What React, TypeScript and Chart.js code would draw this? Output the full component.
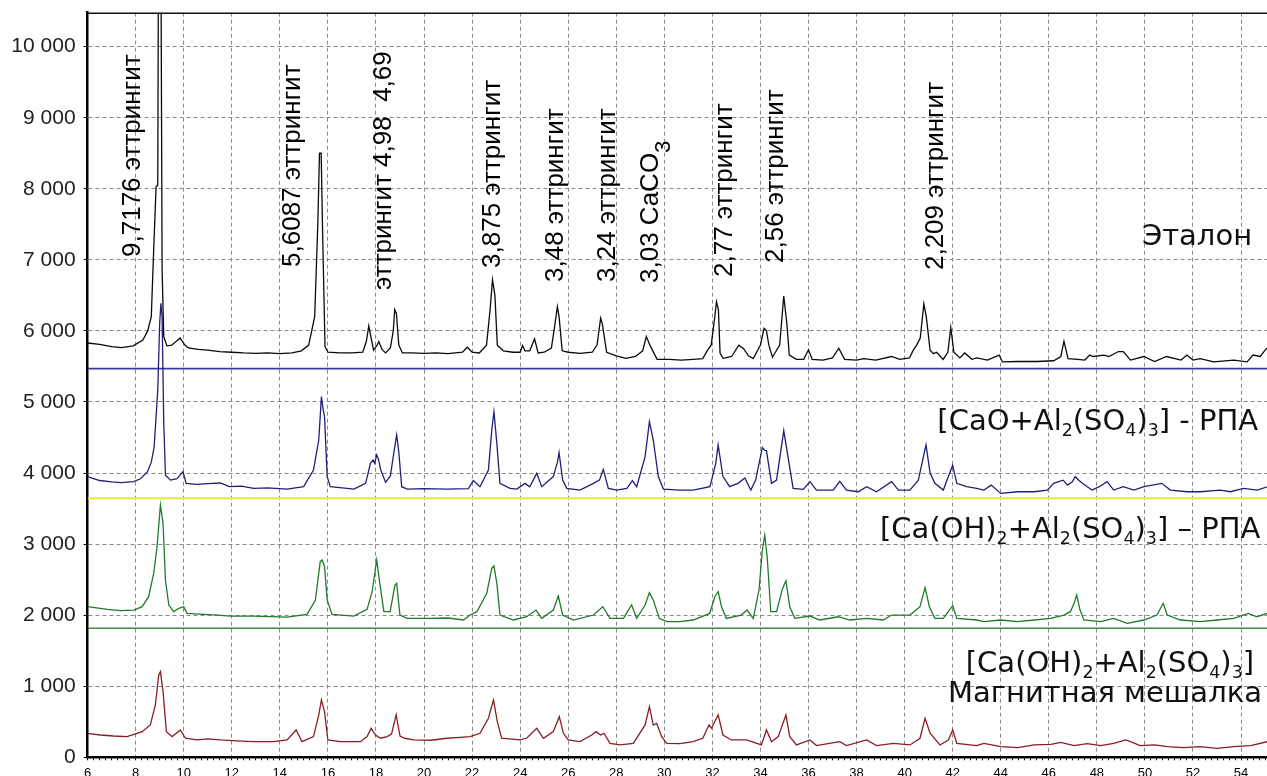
import React, { useEffect, useRef } from "react";
import { Chart, registerables } from "chart.js";

Chart.register(...registerables);

// ---------------- DATA ----------------
const xMajorTicks = [6, 8, 10, 12, 14, 16, 18, 20, 22, 24, 26, 28, 30, 32, 34, 36, 38, 40, 42, 44, 46, 48, 50, 52, 54];
const yTickValues = [0, 1000, 2000, 3000, 4000, 5000, 6000, 7000, 8000, 9000, 10000];
const yTickLabels = ["0", "1 000", "2 000", "3 000", "4 000", "5 000", "6 000", "7 000", "8 000", "9 000", "10 000"];

// Эталон (black)
const etalonX = [6.0, 6.5, 7.0, 7.4, 7.9, 8.3, 8.5, 8.65, 8.75, 8.85, 8.92, 8.95, 9.05, 9.1, 9.17, 9.3, 9.5, 9.85, 10.05, 10.2, 10.6, 11.0, 11.5, 12.0, 12.5, 13.0, 13.5, 14.0, 14.5, 14.9, 15.2, 15.45, 15.58, 15.65, 15.72, 15.78, 15.88, 16.0, 16.5, 17.0, 17.45, 17.6, 17.7, 17.8, 17.9, 18.05, 18.12, 18.25, 18.4, 18.6, 18.72, 18.78, 18.85, 18.95, 19.1, 19.5, 20.0, 20.5, 21.0, 21.6, 21.8, 22.0, 22.3, 22.6, 22.75, 22.85, 22.95, 23.05, 23.3, 23.7, 24.0, 24.1, 24.2, 24.4, 24.6, 24.75, 25.0, 25.3, 25.45, 25.55, 25.62, 25.75, 26.0, 26.5, 27.0, 27.2, 27.35, 27.42, 27.6, 28.0, 28.4, 28.8, 29.1, 29.25, 29.4, 29.7, 30.2, 30.7, 31.2, 31.6, 31.8, 31.95, 32.1, 32.17, 32.25, 32.32, 32.45, 32.8, 33.1, 33.3, 33.5, 33.7, 34.0, 34.15, 34.25, 34.35, 34.5, 34.8, 34.97, 35.1, 35.2, 35.5, 35.8, 36.0, 36.15, 36.6, 37.0, 37.26, 37.5, 38.0, 38.3, 38.8, 39.46, 39.8, 40.2, 40.36, 40.5, 40.65, 40.8, 40.9, 41.06, 41.2, 41.33, 41.6, 41.8, 41.92, 42.05, 42.3, 42.5, 42.8, 43.0, 43.45, 43.93, 44.07, 44.7, 45.5, 46.2, 46.5, 46.63, 46.8, 47.2, 47.5, 47.7, 47.85, 48.3, 48.5, 48.9, 49.1, 49.4, 49.96, 50.4, 50.9, 51.5, 51.75, 52.0, 52.3, 52.86, 53.7, 54.25, 54.5, 54.8, 55.0, 55.1];
const etalonY = [5830, 5810, 5780, 5765, 5790, 5870, 6000, 6200, 7140, 8030, 8050, 11500, 11500, 6860, 5920, 5790, 5800, 5900, 5800, 5760, 5740, 5730, 5710, 5700, 5690, 5685, 5690, 5680, 5690, 5720, 5800, 6200, 7500, 8500, 8500, 7380, 5780, 5700, 5690, 5690, 5700, 5850, 6070, 5900, 5730, 5800, 5850, 5740, 5690, 5760, 6000, 6300, 6250, 5800, 5690, 5690, 5685, 5690, 5680, 5700, 5770, 5700, 5690, 5800, 6300, 6720, 6500, 5800, 5720, 5700, 5700, 5795, 5720, 5720, 5890, 5690, 5700, 5760, 6100, 6340, 6200, 5720, 5700, 5685, 5700, 5800, 6180, 6100, 5700, 5650, 5615, 5640, 5720, 5920, 5800, 5600, 5600, 5590, 5600, 5610, 5730, 5800, 6200, 6412, 6300, 5685, 5615, 5640, 5800, 5750, 5650, 5610, 5800, 6036, 6000, 5800, 5630, 5800, 6492, 6100, 5660, 5600, 5600, 5735, 5600, 5590, 5620, 5757, 5600, 5590, 5610, 5590, 5640, 5600, 5620, 5730, 5800, 5900, 6380, 6200, 5730, 5680, 5700, 5600, 5700, 6050, 5700, 5620, 5690, 5600, 5620, 5590, 5660, 5565, 5570, 5570, 5580, 5640, 5855, 5610, 5600, 5590, 5660, 5640, 5660, 5640, 5710, 5710, 5590, 5640, 5570, 5640, 5590, 5660, 5590, 5610, 5565, 5590, 5565, 5660, 5640, 5730, 5760];

// [CaO+Al2(SO4)3] - РПА (blue)
const caoX = [6.0, 6.5, 7.0, 7.4, 7.92, 8.2, 8.49, 8.65, 8.77, 8.92, 9.0, 9.05, 9.1, 9.17, 9.24, 9.45, 9.72, 9.97, 10.1, 10.55, 11.0, 11.52, 11.9, 12.4, 12.91, 13.5, 14.3, 14.99, 15.4, 15.62, 15.73, 15.8, 15.86, 15.97, 16.1, 16.6, 17.08, 17.57, 17.77, 17.88, 17.95, 18.03, 18.1, 18.2, 18.4, 18.6, 18.75, 18.86, 18.95, 19.07, 19.3, 20.0, 20.94, 21.85, 22.05, 22.33, 22.68, 22.82, 22.91, 23.03, 23.16, 23.58, 23.86, 24.2, 24.4, 24.69, 24.9, 25.38, 25.55, 25.62, 25.77, 25.94, 26.49, 27.05, 27.3, 27.46, 27.67, 28.02, 28.44, 28.67, 28.85, 29.2, 29.38, 29.54, 29.75, 29.96, 30.65, 31.2, 31.9, 32.14, 32.24, 32.44, 32.72, 33.07, 33.35, 33.6, 33.8, 34.08, 34.18, 34.25, 34.46, 34.67, 34.97, 35.15, 35.36, 35.78, 36.06, 36.33, 37.03, 37.3, 37.58, 38.07, 38.42, 38.83, 39.46, 39.74, 40.22, 40.57, 40.89, 41.06, 41.26, 41.61, 41.82, 42.0, 42.17, 42.58, 43.0, 43.3, 43.6, 44.0, 44.7, 45.4, 45.94, 46.2, 46.6, 46.77, 46.98, 47.1, 47.25, 47.4, 47.6, 47.8, 48.1, 48.43, 48.7, 49.1, 49.54, 49.96, 50.7, 51.06, 51.76, 52.3, 53.14, 53.56, 54.1, 54.67, 55.1];
const caoY = [3950, 3895, 3875, 3864, 3880, 3920, 4020, 4150, 4370, 5170, 6107, 6390, 6200, 4700, 3970, 3900, 3920, 4020, 3855, 3840, 3850, 3860, 3808, 3815, 3785, 3790, 3775, 3808, 4043, 4465, 5075, 4900, 4793, 3950, 3808, 3790, 3775, 3855, 4137, 4185, 4137, 4255, 4200, 4043, 3870, 3960, 4300, 4536, 4300, 3808, 3775, 3780, 3775, 3780, 3896, 3808, 4043, 4606, 4864, 4420, 3855, 3785, 3775, 3855, 3808, 3996, 3808, 3950, 4150, 4287, 3900, 3785, 3761, 3855, 3900, 4052, 3785, 3761, 3785, 3892, 3808, 4230, 4723, 4465, 3950, 3775, 3760, 3760, 3808, 4137, 4395, 3950, 3808, 3855, 3930, 3760, 3900, 4361, 4320, 4315, 3855, 3900, 4597, 4220, 3785, 3770, 3878, 3760, 3760, 3883, 3760, 3737, 3808, 3737, 3878, 3760, 3760, 3900, 4395, 4000, 3855, 3760, 3950, 4110, 3855, 3808, 3785, 3760, 3830, 3713, 3737, 3737, 3760, 3855, 3900, 3830, 3878, 3949, 3900, 3855, 3808, 3760, 3808, 3878, 3760, 3808, 3760, 3808, 3855, 3760, 3737, 3737, 3760, 3737, 3785, 3760, 3808];

// [Ca(OH)2+Al2(SO4)3] – РПА (green)
const caohRpaX = [6.0, 6.82, 7.37, 7.92, 8.27, 8.54, 8.75, 8.89, 9.03, 9.14, 9.24, 9.38, 9.58, 9.79, 10.0, 10.14, 10.83, 11.4, 11.94, 12.91, 13.6, 14.3, 15.13, 15.48, 15.68, 15.76, 15.86, 15.97, 16.17, 17.08, 17.63, 17.84, 18.03, 18.16, 18.33, 18.59, 18.79, 18.86, 19.0, 19.3, 20.25, 21.0, 21.64, 21.92, 22.2, 22.61, 22.82, 22.91, 23.03, 23.16, 23.72, 24.27, 24.66, 24.9, 25.38, 25.59, 25.77, 26.22, 27.05, 27.44, 27.74, 28.3, 28.64, 28.85, 29.2, 29.38, 29.54, 29.79, 30.1, 30.65, 31.2, 31.89, 32.1, 32.24, 32.38, 32.58, 33.2, 33.44, 33.7, 33.94, 34.08, 34.18, 34.28, 34.43, 34.67, 34.92, 35.06, 35.22, 35.43, 36.06, 36.47, 37.24, 37.72, 38.42, 39.11, 39.46, 40.22, 40.64, 40.85, 41.03, 41.26, 41.61, 41.82, 42.0, 42.17, 43.0, 43.3, 44.0, 44.7, 45.4, 46.08, 46.63, 46.9, 47.05, 47.16, 47.3, 47.46, 48.16, 48.7, 49.26, 49.96, 50.5, 50.76, 50.93, 51.48, 52.31, 53.0, 53.7, 54.3, 54.66, 55.1];
const caohRpaY = [2119, 2082, 2063, 2072, 2119, 2260, 2588, 2963, 3550, 3290, 2494, 2143, 2049, 2096, 2119, 2025, 2011, 2000, 1987, 1987, 1980, 1973, 2011, 2214, 2753, 2777, 2683, 2214, 2011, 1987, 2082, 2330, 2777, 2448, 2049, 2049, 2424, 2448, 2002, 1955, 1955, 1960, 1932, 2002, 2049, 2307, 2659, 2692, 2448, 2002, 1932, 1978, 2072, 1955, 2072, 2270, 2002, 1932, 2002, 2119, 1955, 1955, 2143, 1955, 2143, 2317, 2214, 1955, 1908, 1908, 1932, 2025, 2260, 2330, 2119, 1955, 2002, 2072, 1955, 2354, 2917, 3128, 2823, 2049, 2049, 2377, 2485, 2119, 1955, 1988, 1932, 1978, 1932, 1955, 1932, 2002, 2002, 2119, 2387, 2119, 1955, 1955, 2049, 2133, 1955, 1932, 1908, 1932, 1908, 1932, 1955, 2002, 2049, 2166, 2284, 2072, 1932, 1908, 1955, 1885, 1932, 2002, 2167, 2002, 1932, 1908, 1932, 1955, 2025, 1978, 2025];

// [Ca(OH)2+Al2(SO4)3] Магнитная мешалка (red)
const mixerX = [6.0, 6.53, 7.08, 7.64, 8.06, 8.27, 8.61, 8.82, 8.96, 9.03, 9.14, 9.28, 9.52, 9.86, 10.07, 10.55, 11.0, 11.52, 12.2, 12.91, 13.74, 14.3, 14.68, 14.92, 15.4, 15.62, 15.73, 15.86, 16.0, 16.52, 17.36, 17.63, 17.8, 17.98, 18.19, 18.47, 18.65, 18.84, 19.0, 19.2, 19.56, 20.3, 20.94, 21.5, 21.92, 22.33, 22.68, 22.89, 23.05, 23.23, 23.99, 24.27, 24.69, 24.97, 25.38, 25.63, 25.8, 26.0, 26.49, 26.98, 27.16, 27.35, 27.49, 27.74, 28.16, 28.71, 29.2, 29.38, 29.54, 29.68, 29.89, 30.1, 30.65, 31.2, 31.6, 31.86, 31.96, 32.24, 32.44, 32.79, 33.42, 34.04, 34.25, 34.46, 34.74, 35.06, 35.22, 35.5, 36.06, 36.33, 37.3, 37.58, 38.42, 38.83, 39.53, 40.22, 40.64, 40.85, 41.06, 41.47, 41.82, 42.0, 42.17, 43.0, 43.3, 44.0, 44.7, 45.4, 46.08, 46.5, 47.05, 47.6, 48.16, 48.7, 49.2, 49.4, 49.8, 50.4, 50.93, 51.6, 52.3, 53.0, 53.7, 54.4, 55.1];
const mixerY = [338, 314, 300, 291, 338, 361, 455, 736, 1158, 1205, 924, 361, 291, 385, 268, 244, 260, 244, 230, 220, 220, 244, 385, 220, 291, 596, 807, 643, 244, 220, 220, 291, 408, 314, 268, 291, 330, 596, 300, 268, 244, 240, 268, 280, 291, 338, 549, 807, 502, 268, 244, 268, 408, 268, 361, 572, 338, 244, 220, 314, 361, 314, 338, 197, 174, 197, 455, 713, 455, 478, 291, 197, 192, 220, 268, 455, 408, 596, 314, 244, 244, 174, 385, 220, 291, 596, 291, 174, 244, 165, 220, 165, 244, 165, 197, 174, 268, 549, 338, 174, 244, 385, 197, 165, 197, 150, 136, 174, 183, 211, 165, 192, 165, 197, 244, 220, 165, 174, 150, 136, 150, 127, 150, 165, 220];

// horizontal separators between the traces
const separatorLevels = [5470, 3645, 1815];

// peak annotations (rotated)
const peakLabelTexts = ["9,7176 эттрингит", "5,6087 эттрингит", "эттрингит 4,98  4,69", "3,875 эттрингит", "3,48 эттрингит", "3,24 эттрингит", "3,03 CaCO{3}", "2,77 эттрингит", "2,56 эттрингит", "2,209 эттрингит"];
const peakLabelX = [8.18, 14.84, 18.63, 23.16, 25.78, 27.95, 29.74, 32.82, 34.94, 41.6];
const peakLabelY = [7041, 6900, 6577, 6886, 6689, 6689, 6675, 6759, 6956, 6857];

// series names (right side)
const seriesLabelTexts = ["Эталон", "[CaO+Al{2}(SO{4}){3}] - РПА", "[Ca(OH){2}+Al{2}(SO{4}){3}] – РПА", "[Ca(OH){2}+Al{2}(SO{4}){3}]", "Магнитная мешалка"];
const seriesLabelY = [7209, 4606, 3086, 1200, 780];
const seriesLabelRightX = [54.46, 54.71, 54.8, 54.54, 54.87];

// axis ranges
const X_MIN = 6;
const X_MAX = 55.08;
const Y_MAX = 10478;

// ---------------- helpers ----------------
const ARIAL = '"Liberation Sans", Arial, sans-serif';
const DEJAVU = '"DejaVu Sans", Verdana, sans-serif';

function toPoints(xs: number[], ys: number[]) {
  return xs.map((x, i) => ({ x, y: ys[i] }));
}

type Seg = { t: string; sub: boolean };
function parseRich(s: string): Seg[] {
  const segs: Seg[] = [];
  const re = /\{([^}]*)\}/g;
  let last = 0;
  let m: RegExpExecArray | null;
  while ((m = re.exec(s))) {
    if (m.index > last) segs.push({ t: s.slice(last, m.index), sub: false });
    segs.push({ t: m[1], sub: true });
    last = re.lastIndex;
  }
  if (last < s.length) segs.push({ t: s.slice(last), sub: false });
  return segs;
}

function drawRich(ctx: CanvasRenderingContext2D, s: string, x: number, y: number, size: number, family: string, align: "left" | "right", subScale: number, subDrop: number) {
  const segs = parseRich(s);
  const mainFont = `${size}px ${family}`;
  const subFont = `${size * subScale}px ${family}`;
  let w = 0;
  for (const seg of segs) {
    ctx.font = seg.sub ? subFont : mainFont;
    w += ctx.measureText(seg.t).width;
  }
  let cx = align === "right" ? x - w : x;
  ctx.textAlign = "left";
  ctx.textBaseline = "alphabetic";
  for (const seg of segs) {
    ctx.font = seg.sub ? subFont : mainFont;
    ctx.fillText(seg.t, cx, seg.sub ? y + size * subDrop : y);
    cx += ctx.measureText(seg.t).width;
  }
}

const annotationPlugin = {
  id: "xrdAnnotations",
  afterDatasetsDraw(chart: any) {
    const { ctx, chartArea, scales } = chart;
    const xs = scales.x;
    const ys = scales.y;
    ctx.save();
    // top frame line
    ctx.strokeStyle = "#111";
    ctx.lineWidth = 1.6;
    ctx.beginPath();
    ctx.moveTo(chartArea.left, chartArea.top + 0.5);
    ctx.lineTo(chartArea.right, chartArea.top + 0.5);
    ctx.stroke();

    ctx.fillStyle = "#000";
    // rotated peak labels
    peakLabelTexts.forEach((txt, i) => {
      const px = xs.getPixelForValue(peakLabelX[i]);
      const py = ys.getPixelForValue(peakLabelY[i]);
      ctx.save();
      ctx.translate(px, py);
      ctx.rotate(-Math.PI / 2);
      drawRich(ctx, txt, 0, 0, 26, ARIAL, "left", 0.85, 0.45);
      ctx.restore();
    });
    // series names
    ctx.fillStyle = "#111";
    seriesLabelTexts.forEach((txt, i) => {
      const rx = xs.getPixelForValue(seriesLabelRightX[i]);
      const py = ys.getPixelForValue(seriesLabelY[i]);
      drawRich(ctx, txt, rx, py, 29, DEJAVU, "right", 0.6, 0.2);
    });
    ctx.restore();
  },
};

export default function App() {
  const canvasRef = useRef<HTMLCanvasElement | null>(null);

  useEffect(() => {
    const canvas = canvasRef.current;
    if (!canvas) return;
    const lineDs = (label: string, xs: number[], ys: number[], color: string, width: number) => ({
      label,
      data: toPoints(xs, ys),
      borderColor: color,
      borderWidth: width,
      pointRadius: 0,
      tension: 0,
      fill: false,
    });
    const sepColors = ["#3a3a9c", "#e8e845", "#3c8c3c"];
    const sepWidths = [1.6, 2.2, 1.6];
    const sepDatasets = separatorLevels.map((lvl, i) => ({
      label: "sep" + i,
      data: [
        { x: X_MIN, y: lvl },
        { x: X_MAX, y: lvl },
      ],
      borderColor: sepColors[i],
      borderWidth: sepWidths[i],
      pointRadius: 0,
      fill: false,
    }));

    const chart = new Chart(canvas, {
      type: "line",
      data: {
        datasets: [
          lineDs("Эталон", etalonX, etalonY, "#0a0a0a", 1.3),
          lineDs("[CaO+Al2(SO4)3] - РПА", caoX, caoY, "#1f1f78", 1.3),
          lineDs("[Ca(OH)2+Al2(SO4)3] – РПА", caohRpaX, caohRpaY, "#1f7a2a", 1.3),
          lineDs("[Ca(OH)2+Al2(SO4)3] Магнитная мешалка", mixerX, mixerY, "#8a1c24", 1.3),
          ...sepDatasets,
        ] as any,
      },
      options: {
        animation: false,
        responsive: false,
        maintainAspectRatio: false,
        devicePixelRatio: 1,
        layout: { padding: { top: 12.7, right: 0, left: 0, bottom: 0 } },
        plugins: {
          legend: { display: false },
          tooltip: { enabled: false },
        },
        scales: {
          x: {
            type: "linear",
            min: X_MIN,
            max: X_MAX,
            ticks: {
              stepSize: 0.25,
              autoSkip: false,
              includeBounds: false,
              maxRotation: 0,
              minRotation: 0,
              padding: 5,
              color: "#000",
              font: { family: ARIAL, size: 13 },
              callback: (v: any) => (xMajorTicks.includes(Number(v)) ? String(v) : ""),
            },
            grid: {
              color: (c: any) => (c.tick && xMajorTicks.includes(c.tick.value) ? "#8a8a8a" : "rgba(0,0,0,0)"),
              lineWidth: 1,
              tickColor: "#000",
              tickLength: 3,
              tickWidth: 1,
            },
            border: { display: true, color: "#000", width: 2.5, dash: [4, 3] },
            afterFit: (s: any) => {
              s.height = 18.7;
              s.paddingLeft = 0;
              s.paddingRight = 0;
            },
          } as any,
          y: {
            type: "linear",
            min: 0,
            max: Y_MAX,
            afterBuildTicks: (s: any) => {
              s.ticks = yTickValues.map((v) => ({ value: v }));
            },
            ticks: {
              autoSkip: false,
              padding: 8,
              color: "#222",
              font: { family: ARIAL, size: 21 },
              callback: (v: any) => {
                const i = yTickValues.indexOf(Number(v));
                return i >= 0 ? yTickLabels[i] : "";
              },
            },
            grid: {
              color: "#8a8a8a",
              lineWidth: 1,
              tickColor: "#000",
              tickLength: 4,
            },
            border: { display: true, color: "#000", width: 2.5, dash: [4, 3] },
            afterFit: (s: any) => {
              s.width = 87.6;
              s.paddingTop = 0;
              s.paddingBottom = 0;
            },
          } as any,
        },
      },
      plugins: [annotationPlugin],
    });
    return () => chart.destroy();
  }, []);

  return (
    <div style={{ position: "fixed", left: 0, top: 0, width: 1267, height: 776, background: "#fff", overflow: "hidden" }}>
      <canvas ref={canvasRef} width={1267} height={776} style={{ display: "block" }} />
    </div>
  );
}
